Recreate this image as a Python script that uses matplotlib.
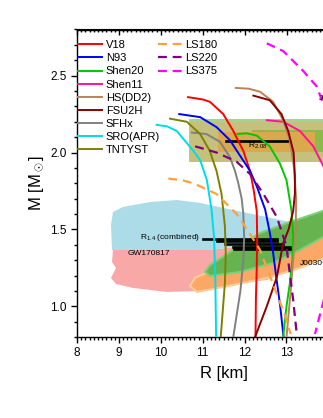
import numpy as np
import matplotlib.pyplot as plt
from matplotlib.ticker import MultipleLocator, FormatStrFormatter
from matplotlib.patches import Polygon, Rectangle

plt.rcParams['font.family'] = ['Liberation Sans', 'DejaVu Sans']
plt.rcParams['mathtext.fontset'] = 'custom'
plt.rcParams['mathtext.rm'] = 'Liberation Sans'
plt.rcParams['mathtext.it'] = 'Liberation Sans'

# mass-radius curves (R in km, M in Msun)
r_v18 = [10.65, 11.0, 11.17, 11.49, 11.73, 11.97, 12.13, 12.22, 12.29, 12.30, 12.29, 12.27, 12.26]
m_v18 = [2.36, 2.345, 2.33, 2.25, 2.14, 2.01, 1.88, 1.75, 1.62, 1.45, 1.25, 1.05, 0.8]
r_n93 = [10.44, 10.94, 11.33, 11.65, 11.89, 12.13, 12.29, 12.49, 12.6, 12.68, 12.75, 12.85, 12.93]
m_n93 = [2.25, 2.23, 2.165, 2.08, 1.98, 1.88, 1.78, 1.63, 1.48, 1.35, 1.2, 1.0, 0.8]
r_shen20 = [11.83, 12.05, 12.29, 12.6, 12.84, 13.0, 13.12, 13.16, 13.14, 13.08, 13.0, 12.92]
m_shen20 = [2.12, 2.125, 2.11, 2.04, 1.93, 1.82, 1.62, 1.45, 1.3, 1.15, 1.0, 0.8]
r_shen11 = [12.53, 12.92, 13.32, 13.64, 13.9, 14.1, 14.2, 14.2, 14.15, 14.05]
m_shen11 = [2.21, 2.20, 2.14, 2.04, 1.9, 1.7, 1.5, 1.3, 1.1, 0.8]
r_dd2 = [11.79, 12.1, 12.37, 12.68, 12.92, 13.08, 13.18, 13.23, 13.22, 13.16, 13.1, 13.0]
m_dd2 = [2.42, 2.415, 2.395, 2.33, 2.21, 2.08, 1.9, 1.7, 1.5, 1.3, 1.1, 0.8]
r_fsu2h = [12.21, 12.6, 12.88, 13.04, 13.17, 13.2, 13.2, 13.16, 13.05, 12.92, 12.77, 12.53, 12.25]
m_fsu2h = [2.37, 2.34, 2.25, 2.14, 2.0, 1.85, 1.73, 1.62, 1.5, 1.41, 1.19, 1.0, 0.8]
r_sfhx = [10.74, 11.09, 11.41, 11.65, 11.77, 11.85, 11.93, 11.97, 11.99, 11.97, 11.9, 11.73]
m_sfhx = [2.13, 2.12, 2.07, 1.97, 1.88, 1.8, 1.7, 1.6, 1.45, 1.3, 1.1, 0.8]
r_sro = [9.9, 10.15, 10.38, 10.78, 10.94, 11.1, 11.21, 11.27, 11.3, 11.31, 11.32]
m_sro = [2.18, 2.17, 2.14, 2.01, 1.95, 1.82, 1.63, 1.45, 1.2, 1.0, 0.8]
r_tnt = [10.22, 10.62, 10.94, 11.17, 11.33, 11.45, 11.53, 11.55, 11.53, 11.43]
m_tnt = [2.22, 2.2, 2.12, 2.01, 1.88, 1.73, 1.52, 1.35, 1.15, 0.8]
r_ls180 = [10.18, 10.5, 10.78, 11.33, 11.81, 12.13, 12.37, 12.6, 12.77, 12.95, 13.1]
m_ls180 = [1.83, 1.82, 1.80, 1.73, 1.60, 1.47, 1.365, 1.2, 1.08, 0.95, 0.82]
r_ls220 = [10.82, 11.33, 11.81, 12.13, 12.45, 12.77, 13.0, 13.08, 13.16, 13.24]
m_ls220 = [2.04, 2.0, 1.94, 1.86, 1.73, 1.58, 1.39, 1.21, 1.04, 0.83]
r_ls375 = [12.53, 12.92, 13.4, 13.72, 13.9, 14.1, 14.2, 14.15, 14.0, 13.85, 13.68]
m_ls375 = [2.71, 2.66, 2.53, 2.43, 2.3, 2.0, 1.7, 1.4, 1.15, 1.0, 0.82]

# observational regions
gw_blue_r = [8.835, 8.811, 8.859, 9.098, 9.742, 10.387, 10.936, 11.723, 12.535, 13.084, 13.442, 13.203, 12.129, 11.174]
gw_blue_m = [1.366, 1.528, 1.613, 1.646, 1.678, 1.691, 1.672, 1.626, 1.580, 1.548, 1.509, 1.457, 1.398, 1.366]
gw_pink_r = [8.859, 8.835, 8.931, 8.811, 8.931, 9.337, 10.148, 10.936, 11.723, 12.535, 12.964, 13.322, 13.084, 12.129, 11.174]
gw_pink_m = [1.366, 1.288, 1.249, 1.184, 1.145, 1.119, 1.093, 1.099, 1.145, 1.171, 1.223, 1.333, 1.405, 1.398, 1.366]
j0030_or_r = [10.697, 10.864, 11.723, 12.535, 13.322, 14.277, 14.277, 13.322, 12.916, 12.129, 11.341, 10.816]
j0030_or_m = [1.132, 1.093, 1.138, 1.184, 1.249, 1.353, 1.574, 1.496, 1.405, 1.320, 1.249, 1.184]
j0030_gr_r = [11.055, 11.174, 11.723, 12.368, 13.012, 13.871, 14.396, 14.396, 13.871, 13.322, 12.678, 11.890, 11.174]
j0030_gr_m = [1.223, 1.268, 1.366, 1.476, 1.541, 1.620, 1.672, 1.496, 1.450, 1.366, 1.281, 1.223, 1.197]

# R_1.4 (combined) bars: mass, r_min, r_max
r14_m = [1.436, 1.423, 1.407, 1.388, 1.371]
r14_lo = [11.01, 11.34, 11.53, 11.72, 11.75]
r14_hi = [12.77, 12.77, 12.92, 13.08, 13.13]
# R_2.08 bar
r208_m = 2.075
r208_lo, r208_hi = 11.56, 13.04

fig = plt.figure(figsize=(3.23, 4.18), dpi=100)
ax = fig.add_axes([77/323, 81/418, 293.3/323, 307.5/418])
ax.set_xlim(8, 15)
ax.set_ylim(0.8, 2.8)

# R2.08 boxes
ax.add_patch(Rectangle((10.67, 1.935), 5, 0.28, fc='#a9d18e', ec='none', zorder=1))
ax.add_patch(Rectangle((10.70, 1.94), 5, 0.257, fc='#c5c17c', ec='none', zorder=1.1))
ax.add_patch(Rectangle((12.17, 2.005), 3, 0.141, fc='#8db84a', ec='none', zorder=1.2))
ax.add_patch(Rectangle((11.365, 2.005), 2.315, 0.13, fc='#d9a94c', ec='none', zorder=1.3))
ax.plot([r208_lo, r208_hi], [r208_m, r208_m], color='black', lw=1.9, zorder=2)
ax.text(12.08, 2.03, 'R$_{2.08}$', fontsize=6, zorder=6)

# GW170817 and J0030 regions
ax.add_patch(Polygon(np.column_stack([gw_pink_r, gw_pink_m]), fc='#f9a8a8', ec='none', zorder=1))
ax.add_patch(Polygon(np.column_stack([gw_blue_r, gw_blue_m]), fc='#acdce8', ec='none', zorder=1.1))
ax.add_patch(Polygon(np.column_stack([j0030_or_r, j0030_or_m]), fc='#fba766', ec='#ffcb95', lw=1.5, zorder=1.2))
ax.add_patch(Polygon(np.column_stack([j0030_gr_r, j0030_gr_m]), fc='#66b350', ec='#7cd07c', lw=1.5, zorder=1.3))
for m, lo, hi in zip(r14_m, r14_lo, r14_hi):
    ax.plot([lo, hi], [m, m], color='black', lw=1.9, zorder=2)
ax.text(10.95, 1.445, 'R$_{1.4}$ (combined)', fontsize=6, ha='right', va='center', zorder=6)
ax.text(9.71, 1.345, 'GW170817', fontsize=6, ha='center', va='center', zorder=6)
ax.text(13.32, 1.28, 'J0030+0451', fontsize=6, va='center', zorder=6)
ax.text(13.78, 2.35, 'J0740+6620', fontsize=6, va='center', zorder=6)

solid = [
    (r_v18, m_v18, '#ff0000', 'V18'),
    (r_n93, m_n93, '#0000ff', 'N93'),
    (r_shen20, m_shen20, '#00c800', 'Shen20'),
    (r_shen11, m_shen11, '#ff1493', 'Shen11'),
    (r_dd2, m_dd2, '#b8845a', 'HS(DD2)'),
    (r_fsu2h, m_fsu2h, '#8b0000', 'FSU2H'),
    (r_sfhx, m_sfhx, '#808080', 'SFHx'),
    (r_sro, m_sro, '#00dbe8', 'SRO(APR)'),
    (r_tnt, m_tnt, '#808000', 'TNTYST'),
]
dashed = [
    (r_ls180, m_ls180, '#ffa040', 'LS180'),
    (r_ls220, m_ls220, '#800080', 'LS220'),
    (r_ls375, m_ls375, '#ff00ff', 'LS375'),
]
h1 = []
for r, m, c, lab in solid:
    h1 += ax.plot(r, m, color=c, lw=1.4, label=lab, zorder=4)
h2 = []
for r, m, c, lab in dashed:
    h2 += ax.plot(r, m, color=c, lw=1.6, ls=(0, (4, 2.6)), label=lab, zorder=4)

leg1 = ax.legend(handles=h1, loc='upper left', bbox_to_anchor=(0.005, 0.965), frameon=False,
                 fontsize=8, handlelength=2.1, handletextpad=0.35, labelspacing=0.28,
                 borderpad=0, borderaxespad=0)
ax.add_artist(leg1)
ax.legend(handles=h2, loc='upper left', bbox_to_anchor=(0.277, 0.965), frameon=False,
          fontsize=8, handlelength=2.1, handletextpad=0.35, labelspacing=0.28,
          borderpad=0, borderaxespad=0)

ax.xaxis.set_major_locator(MultipleLocator(1))
ax.xaxis.set_minor_locator(MultipleLocator(0.1))
ax.yaxis.set_major_locator(MultipleLocator(0.5))
ax.yaxis.set_minor_locator(MultipleLocator(0.1))
ax.yaxis.set_major_formatter(FormatStrFormatter('%.1f'))
ax.tick_params(which='both', direction='out', top=False, right=False, labelsize=8.5, width=1)
ax.tick_params(which='major', length=4)
ax.tick_params(which='minor', length=2.2)
for s in ax.spines.values():
    s.set_linewidth(1)

top = ax.secondary_xaxis('top')
top.xaxis.set_major_locator(MultipleLocator(1))
top.xaxis.set_minor_locator(MultipleLocator(0.1))
top.tick_params(which='both', direction='in', labeltop=False, width=1)
top.tick_params(which='major', length=4)
top.tick_params(which='minor', length=2.2)

ax.set_xlabel('R [km]', fontsize=12, labelpad=5)
ax.set_ylabel('M [M$_\\odot$]', fontsize=12, labelpad=3)

fig.savefig('out.png', dpi=100)
